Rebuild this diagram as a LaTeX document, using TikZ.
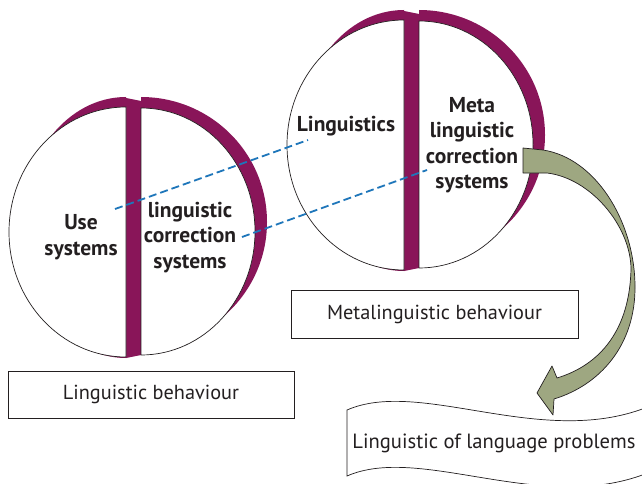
\documentclass[tikz,border=0pt]{standalone}
\usepackage{fontspec}
\setmainfont{PT Sans}
\definecolor{plum}{RGB}{137,21,89}
\definecolor{sage}{RGB}{158,167,129}
\definecolor{ink}{RGB}{35,31,32}
\definecolor{dashblue}{RGB}{30,118,186}

\begin{document}
\begin{tikzpicture}[x=1pt,y=-1pt,
  rim/.style={fill=plum},
  face/.style={fill=white,draw=ink,line width=0.7pt},
  facetext/.style={text=ink,font=\fontsize{21.5}{25.5}\selectfont\bfseries,align=center,inner sep=0pt},
  caption/.style={draw=ink,line width=0.8pt,fill=white,text=ink,
    font=\fontsize{20.3}{24}\selectfont,inner sep=0pt},
  link/.style={draw=dashblue,line width=1.8pt,dash pattern=on 8pt off 4pt},
  bendarrow/.style={fill=sage,draw=ink,line width=0.7pt,line join=round}]
\useasboundingbox (0,0) rectangle (642,484);
\clip (0,0) rectangle (642,484);

% a sphere split into two halves, with a plum rim behind each half
\tikzset{splitsphere/.pic={
  \fill[rim] (0,-135) arc[start angle=90,end angle=270,x radius=105pt,y radius=130.5pt] -- cycle;
  \fill[rim] (0,-134) -- (15,-131) -- (15,123) -- (0,126) -- cycle;
  \fill[rim] (15,-135) arc[start angle=90,end angle=-90,x radius=126pt,y radius=125pt] -- cycle;
  \filldraw[face] (0,-125) arc[start angle=90,end angle=270,x radius=117pt,y radius=125pt] -- cycle;
  \filldraw[face] (15,-124) arc[start angle=90,end angle=-90,x radius=114pt,y radius=123.5pt] -- cycle;
}}

\pic at (126,232) {splitsphere};
\pic at (404,145) {splitsphere};

% texts inside the halves
\node[facetext] (use)  at (81,237)    {Use\\systems};
\node[facetext] (corr) at (190,237.5) {linguistic\\correction\\systems};
\node[facetext] (ling) at (346,126)   {Linguistics};
\node[facetext] (meta) at (472,145)   {Meta\\linguistic\\correction\\systems};

% dashed links between the two spheres
\coordinate (useEnd)  at (115,209);
\coordinate (lingEnd) at (308,140);
\coordinate (corrEnd) at (242,237);
\coordinate (metaEnd) at (427,170);
\draw[link] (useEnd) -- (lingEnd);
\draw[link] (corrEnd) -- (metaEnd);

% captions
\node[caption,minimum width=286pt,minimum height=47pt] (lingbeh) at (151,394.5) {Linguistic behaviour};
\node[caption,minimum width=287pt,minimum height=48pt] (metabeh) at (434.5,314) {Metalinguistic behaviour};

% wavy banner
\filldraw[fill=white,draw=ink,line width=0.7pt]
  (347,410) .. controls (420,378) and (540,448) .. (645,408)
  -- (645,474) .. controls (540,514) and (420,444) .. (347,476) -- cycle;
\node[text=ink,font=\fontsize{20.6}{24}\selectfont,inner sep=0pt] (problems) at (494,443) {Linguistic of language problems};

% curved arrow from the metalinguistic sphere down to the banner
\filldraw[bendarrow]
  (523,148) -- (543,150)
  .. controls (595,158) and (634,220) .. (635,285)
  .. controls (636,345) and (600,385) .. (554,399)
  -- (553,415) -- (537,393) -- (552,366) -- (557,378)
  .. controls (600,365) and (630,330) .. (631,268)
  .. controls (630,225) and (590,178) .. (547,173)
  -- (523,173) -- cycle;
\end{tikzpicture}
\end{document}
